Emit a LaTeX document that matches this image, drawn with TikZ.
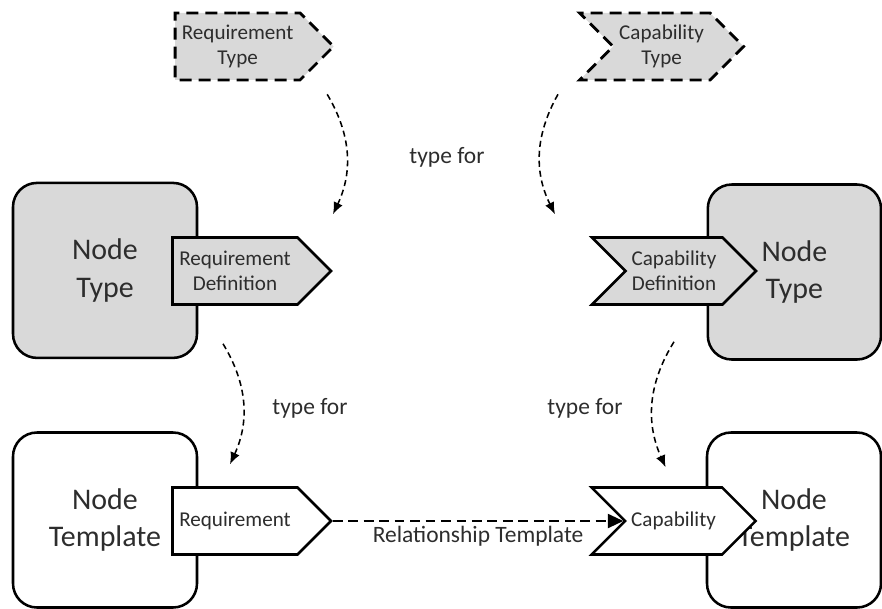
\documentclass[tikz,border=0pt]{standalone}
\usepackage{fontspec}
\setmainfont{Carlito}
\usetikzlibrary{shapes.symbols, arrows.meta}

\definecolor{boxgray}{RGB}{217,217,217}
\definecolor{textgray}{RGB}{45,45,45}

\tikzset{
    nodebox/.style={draw, line width=1.8pt, rounded corners=0.6cm, minimum width=4.6cm, minimum height=4.375cm, align=center, text=textgray, font=\fontsize{21.3}{26.5}\selectfont},
    reqshape/.style={draw, line width=1.8pt, shape=signal, signal to=east, signal pointer angle=90, text width=3.125cm, inner xsep=0pt, minimum height=1.675cm, align=center, text=textgray, font=\fontsize{15}{18}\selectfont},
    capshape/.style={reqshape, signal from=west, text width=2.425cm},
    typeshape/.style={line width=2pt, dash pattern=on 8.5pt off 5pt},
    typefor/.style={-{Latex[length=8.5pt, width=7pt]}, line width=1.1pt, dash pattern=on 4.3pt off 2.8pt},
    relation/.style={-{Triangle[length=11pt, width=10pt]}, line width=1.4pt, dash pattern=on 7pt off 4pt},
    linklabel/.style={text=textgray, font=\fontsize{16.7}{20}\selectfont}
}

\begin{document}
\begin{tikzpicture}
        \useasboundingbox (0, 0) rectangle (22.05, -15.2);

        % node types and node templates
        \node[nodebox, fill=boxgray] (NTL) at (2.625, -6.76) {Node \\ Type};
        \node[nodebox, fill=boxgray, minimum width=4.33cm] (NTR) at (19.86, -6.8) {Node \\ Type};
        \node[nodebox] (NPL) at (2.625, -13.0) {Node \\ Template};
        \node[nodebox, minimum width=4.35cm] (NPR) at (19.85, -13.0) {Node \\ Template};

        % requirements and capabilities
        \node[reqshape, fill=boxgray] (RD) at (5.875, -6.775) {Requirement \\ Definition};
        \node[capshape, fill=boxgray] (CD) at (16.85, -6.775) {Capability \\ Definition};
        \node[reqshape, fill=white] (REQ) at (5.875, -13.025) {Requirement};
        \node[capshape, fill=white] (CAP) at (16.84, -13.025) {Capability};
        \node[reqshape, typeshape, fill=boxgray] (RT) at (5.94, -1.16) {Requirement \\ Type};
        \node[capshape, typeshape, fill=boxgray] (CT) at (16.54, -1.16) {Capability \\ Type};

        \node[linklabel] (TF) at (11.175, -3.925) {type for};
        \node[linklabel] (TFL) at (7.75, -10.2) {type for};
        \node[linklabel] (TFR) at (14.625, -10.2) {type for};

        \draw[typefor] ([shift={(2.24, -0.325)}]RT.south) to[bend left=28] ([shift={(2.45, 0.55)}]RD.north);
        \draw[typefor] ([shift={(-2.59, -0.325)}]CT.south) to[bend right=28] ([shift={(-2.975, 0.55)}]CD.north);
        \draw[typefor] ([shift={(-0.3, -0.95)}]RD.south) to[bend left=28] ([shift={(-0.125, 0.55)}]REQ.north);
        \draw[typefor] ([shift={(0, -0.9)}]CD.south) to[bend right=28] ([shift={(-0.2, 0.475)}]CAP.north);

        \draw[relation] (REQ.east) -- node[below, linklabel] {Relationship Template} (CAP.west);
    \end{tikzpicture}
\end{document}
